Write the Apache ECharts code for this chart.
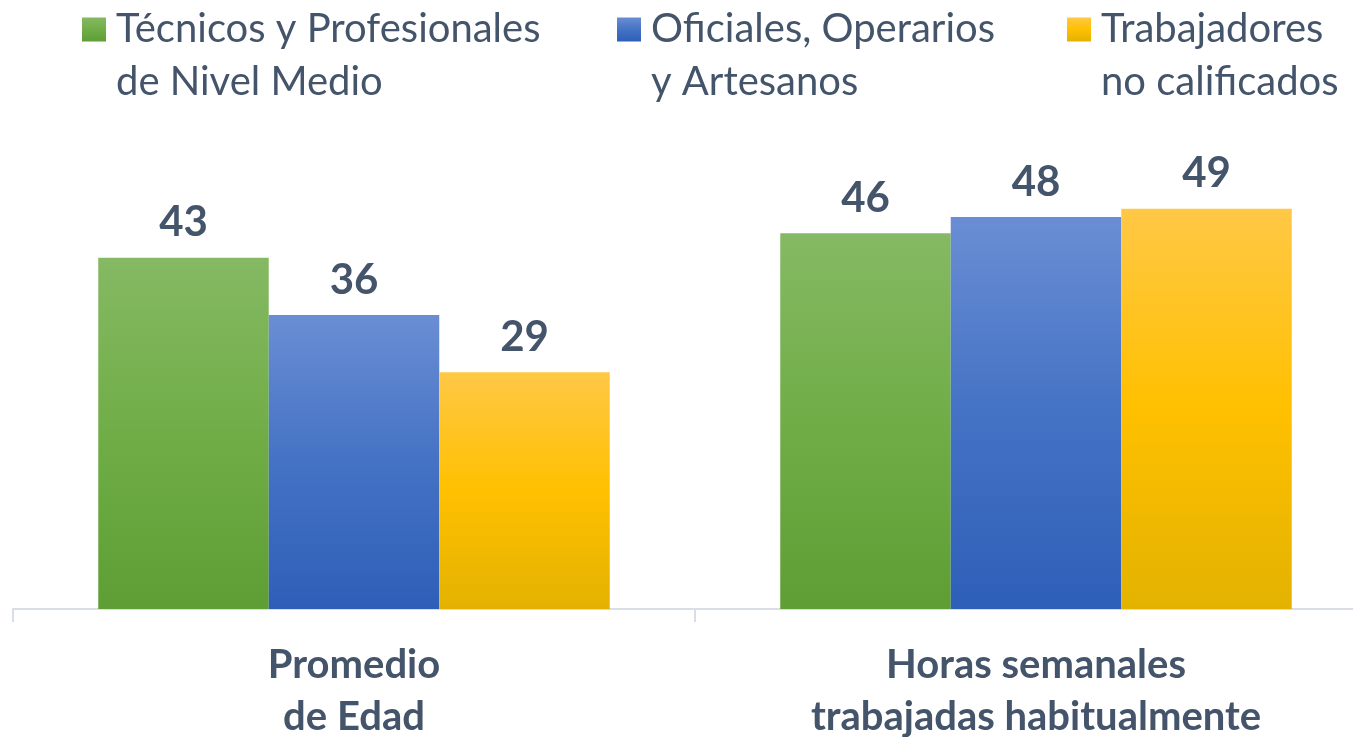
<!DOCTYPE html>
<html>
<head>
<meta charset="utf-8">
<script src="https://cdn.jsdelivr.net/npm/echarts@6/dist/echarts.min.js"></script>
<style>
  html, body { margin: 0; padding: 0; background: #fff; }
  #chart { width: 1353px; height: 737px; }
</style>
</head>
<body>
<div id="chart"></div>
<script>
const categories = ['Promedio\nde Edad', 'Horas semanales\ntrabajadas habitualmente']
const seriesNames = [
  'Técnicos y Profesionales\nde Nivel Medio',
  'Oficiales, Operarios\ny Artesanos',
  'Trabajadores\nno calificados'
]
const tecnicos = [43, 46]
const oficiales = [36, 48]
const trabajadores = [29, 49]

const textColor = '#44546A'
const fontFamily = 'Lato, "Open Sans", sans-serif'

function grad(top, mid, bottom) {
  return new echarts.graphic.LinearGradient(0, 0, 0, 1, [
    { offset: 0, color: top },
    { offset: 0.5, color: mid },
    { offset: 1, color: bottom }
  ])
}

const colors = [
  grad('#85B963', '#70AD47', '#5E9E34'),
  grad('#6A8ED4', '#4472C4', '#2E5FB8'),
  grad('#FFC846', '#FFC000', '#E3B200')
]

// a blank first line puts the icon beside the first line of the name
function makeLegend(name, left) {
  return {
    data: [name],
    left: left,
    top: -50,
    padding: 0,
    icon: 'rect',
    itemWidth: 24,
    itemHeight: 24,
    selectedMode: false,
    formatter: n => '\u00a0\n' + n,
    textStyle: {
      color: textColor,
      fontFamily: fontFamily,
      fontSize: 40,
      lineHeight: 53,
      padding: [0, 0, 0, 5]
    }
  }
}

const chart = echarts.init(document.getElementById('chart'))

const labelStyle = {
  show: true,
  position: 'top',
  distance: 14,
  color: textColor,
  fontFamily: fontFamily,
  fontWeight: 'bold',
  fontSize: 42
}

chart.setOption({
  animation: false,
  color: colors,
  legend: [
    makeLegend(seriesNames[0], 82),
    makeLegend(seriesNames[1], 617),
    makeLegend(seriesNames[2], 1067)
  ],
  grid: {
    left: 13,
    right: -24,
    top: 119,
    bottom: 128,
    containLabel: false,
    outerBoundsMode: 'none'
  },
  xAxis: {
    type: 'category',
    data: categories,
    axisLine: { lineStyle: { color: '#D9DEE6', width: 2 } },
    axisTick: { show: true, length: 13, lineStyle: { color: '#D9DEE6', width: 2 } },
    axisLabel: {
      margin: 30,
      color: textColor,
      fontFamily: fontFamily,
      fontWeight: 'bold',
      fontSize: 40,
      lineHeight: 52
    }
  },
  yAxis: {
    type: 'value',
    min: 0,
    max: 60,
    show: false,
    splitLine: { show: false }
  },
  series: [
    { name: seriesNames[0], type: 'bar', data: tecnicos, barGap: '0%', barCategoryGap: '25%', label: labelStyle },
    { name: seriesNames[1], type: 'bar', data: oficiales, barGap: '0%', barCategoryGap: '25%', label: labelStyle },
    { name: seriesNames[2], type: 'bar', data: trabajadores, barGap: '0%', barCategoryGap: '25%', label: labelStyle }
  ]
})
</script>
</body>
</html>
